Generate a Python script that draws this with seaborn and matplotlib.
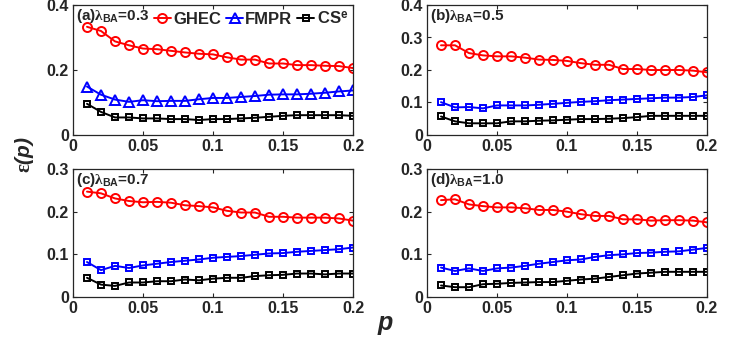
#! /usr/bin/env python3
import pandas as pd
import matplotlib
matplotlib.use("Agg")
import matplotlib.pyplot as plt
import seaborn as sns

sns.set_style("ticks")
plt.rcParams["font.family"] = ["Liberation Sans", "DejaVu Sans"]
plt.rcParams["font.weight"] = "bold"
plt.rcParams["mathtext.fontset"] = "custom"
plt.rcParams["mathtext.rm"] = "Liberation Sans:bold"
plt.rcParams["mathtext.bf"] = "Liberation Sans:bold"
plt.rcParams["mathtext.it"] = "Liberation Serif"

p = [round(0.01 * i, 2) for i in range(1, 21)]

# panel (a) lambda_BA = 0.3
ghec_a = [0.333, 0.320, 0.288, 0.276, 0.266, 0.264, 0.259, 0.254, 0.250, 0.248,
          0.239, 0.232, 0.232, 0.220, 0.220, 0.215, 0.215, 0.213, 0.212, 0.206]
fmpr_a = [0.149, 0.124, 0.109, 0.102, 0.107, 0.104, 0.105, 0.105, 0.110, 0.114,
          0.114, 0.117, 0.120, 0.124, 0.125, 0.125, 0.127, 0.130, 0.134, 0.137]
cse_a = [0.096, 0.071, 0.054, 0.054, 0.051, 0.051, 0.049, 0.049, 0.046, 0.049,
         0.049, 0.051, 0.053, 0.056, 0.059, 0.061, 0.061, 0.061, 0.061, 0.059]

# panel (b) lambda_BA = 0.5
ghec_b = [0.276, 0.276, 0.252, 0.245, 0.242, 0.242, 0.238, 0.232, 0.231, 0.228,
          0.221, 0.216, 0.216, 0.203, 0.203, 0.200, 0.200, 0.200, 0.198, 0.193]
fmpr_b = [0.101, 0.085, 0.086, 0.082, 0.091, 0.091, 0.091, 0.093, 0.096, 0.099,
          0.102, 0.104, 0.107, 0.109, 0.111, 0.113, 0.115, 0.115, 0.117, 0.122]
cse_b = [0.057, 0.042, 0.036, 0.036, 0.036, 0.042, 0.042, 0.044, 0.045, 0.047,
         0.049, 0.049, 0.050, 0.052, 0.055, 0.059, 0.059, 0.059, 0.059, 0.059]

# panel (c) lambda_BA = 0.7
ghec_c = [0.247, 0.243, 0.231, 0.225, 0.222, 0.223, 0.221, 0.215, 0.213, 0.210,
          0.202, 0.198, 0.198, 0.188, 0.188, 0.186, 0.186, 0.186, 0.184, 0.179]
fmpr_c = [0.082, 0.063, 0.073, 0.068, 0.074, 0.078, 0.082, 0.085, 0.088, 0.092,
          0.094, 0.096, 0.099, 0.102, 0.103, 0.106, 0.108, 0.110, 0.112, 0.116]
cse_c = [0.045, 0.029, 0.026, 0.034, 0.034, 0.037, 0.037, 0.041, 0.039, 0.043,
         0.045, 0.045, 0.049, 0.051, 0.052, 0.055, 0.055, 0.053, 0.055, 0.055]

# panel (d) lambda_BA = 1.0
ghec_d = [0.227, 0.229, 0.217, 0.213, 0.210, 0.210, 0.208, 0.204, 0.204, 0.200,
          0.194, 0.190, 0.190, 0.182, 0.182, 0.179, 0.180, 0.180, 0.179, 0.175]
fmpr_d = [0.069, 0.061, 0.067, 0.061, 0.067, 0.069, 0.073, 0.078, 0.082, 0.086,
          0.088, 0.094, 0.098, 0.100, 0.103, 0.104, 0.106, 0.107, 0.111, 0.115]
cse_d = [0.027, 0.023, 0.023, 0.030, 0.031, 0.033, 0.034, 0.035, 0.035, 0.038,
         0.041, 0.043, 0.047, 0.051, 0.055, 0.057, 0.059, 0.059, 0.059, 0.059]

panels = [
    ("(a)", "0.3", ghec_a, fmpr_a, cse_a, "^", 0.4, [0, 0.2, 0.4]),
    ("(b)", "0.5", ghec_b, fmpr_b, cse_b, "s", 0.4, [0, 0.1, 0.2, 0.3, 0.4]),
    ("(c)", "0.7", ghec_c, fmpr_c, cse_c, "s", 0.3, [0, 0.1, 0.2, 0.3]),
    ("(d)", "1.0", ghec_d, fmpr_d, cse_d, "s", 0.3, [0, 0.1, 0.2, 0.3]),
]

W, H = 736, 338
fig = plt.figure(figsize=(W / 100, H / 100), dpi=100)

# axes boxes in pixels: left, top, right, bottom
boxes = [(73, 5, 353, 135), (427, 5, 707, 135),
         (73, 169, 353, 297), (427, 169, 707, 297)]

msize = {"o": 6.5, "^": 6.5, "s": 5.0}

for (tag, lam, g, f, c, fm, ytop, yt), (l, t, r, b) in zip(panels, boxes):
    ax = fig.add_axes([l / W, 1 - b / H, (r - l) / W, (b - t) / H])
    df = pd.DataFrame({"p": p, "GHEC": g, "FMPR": f, "CSe": c})
    for col, color, mk, lab in [("GHEC", "#ff0000", "o", "GHEC"),
                                ("FMPR", "#0000ff", fm, "FMPR"),
                                ("CSe", "#000000", "s", "CS$^\\mathregular{e}$")]:
        sns.lineplot(data=df, x="p", y=col, ax=ax, color=color, marker=mk,
                     markersize=msize[mk], markerfacecolor="none",
                     markeredgecolor=color, markeredgewidth=1.4,
                     linewidth=1.4, label=lab, legend=False)
    ax.set_xlim(0, 0.2)
    ax.set_ylim(0, ytop)
    ax.set_xticks([0, 0.05, 0.1, 0.15, 0.2])
    ax.set_xticklabels(["0", "0.05", "0.1", "0.15", "0.2"])
    ax.set_yticks(yt)
    ax.set_yticklabels(["0" if v == 0 else f"{v:g}" for v in yt])
    ax.set_xlabel("")
    ax.set_ylabel("")
    ax.tick_params(direction="in", top=True, right=True, labelsize=11.5,
                   length=3, width=0.8, pad=3)
    for s in ax.spines.values():
        s.set_linewidth(0.9)
        s.set_visible(True)
    ax.text(0.01, 0.985, tag + "$\\lambda_{\\mathbf{BA}}$=" + lam,
            transform=ax.transAxes, ha="left", va="top", fontsize=11,
            fontweight="bold")
    if tag == "(a)":
        ax.legend(loc="upper right", ncol=3, frameon=False, fontsize=12,
                  handlelength=1.0, handletextpad=0.15, columnspacing=0.3,
                  borderaxespad=0.2, borderpad=0.1)

fig.text(25 / W, 1 - 155 / H, "$\\epsilon$(p)", rotation=90, ha="center",
         va="center", fontsize=15, fontstyle="italic", fontweight="bold")
fig.text(385 / W, 1 - 323 / H, "p", ha="center", va="center", fontsize=18,
         fontstyle="italic", fontweight="bold")

fig.savefig("out.png", dpi=100)
